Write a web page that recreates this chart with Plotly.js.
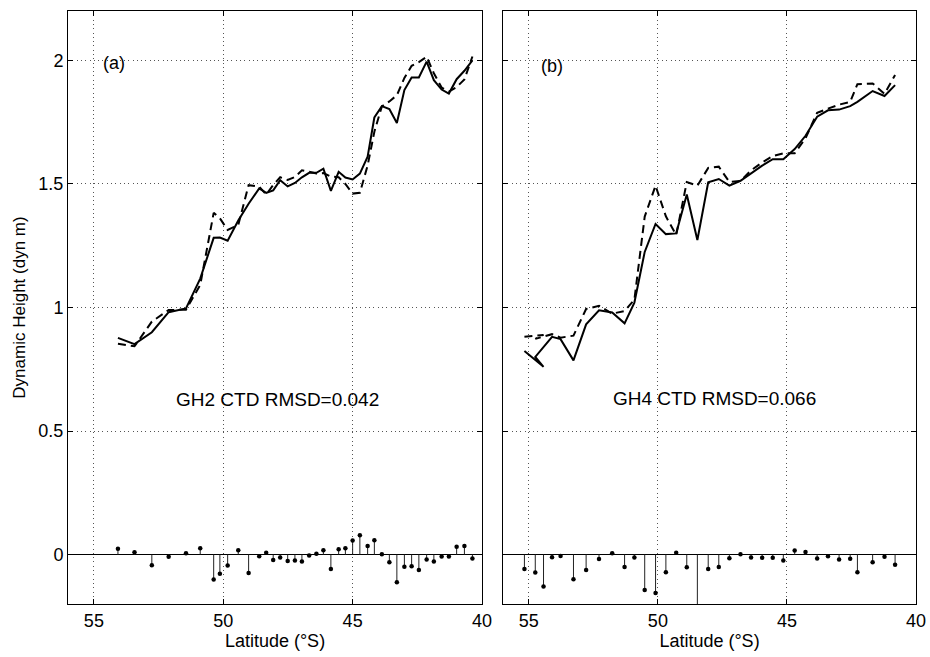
<!DOCTYPE html>
<html>
<head>
<meta charset="utf-8">
<script src="https://cdn.plot.ly/plotly-3.0.1.min.js"></script>
<style>
  html, body { margin: 0; padding: 0; background: #fff; }
  #chart { width: 930px; height: 657px; }
</style>
</head>
<body>
<div id="chart"></div>
<script>
// Station latitudes (°S), dynamic height from altimetry (GH), from CTD, and their difference
const latA = [54.07, 53.43, 52.76, 52.11, 51.44, 50.89, 50.37, 50.13, 49.83, 49.42, 49.02, 48.61, 48.34, 48.07,
  47.80, 47.51, 47.23, 46.96, 46.68, 46.40, 46.13, 45.84, 45.54, 45.28, 45.00, 44.72, 44.42, 44.16, 43.87,
  43.58, 43.29, 43.00, 42.72, 42.44, 42.14, 41.86, 41.56, 41.28, 40.98, 40.68, 40.37];
const gh2 = [0.877, 0.852, 0.900, 0.981, 0.996, 1.117, 1.282, 1.283, 1.270, 1.352, 1.420, 1.482, 1.464, 1.474,
  1.515, 1.490, 1.504, 1.527, 1.545, 1.545, 1.562, 1.472, 1.549, 1.526, 1.518, 1.542, 1.610, 1.769, 1.815,
  1.803, 1.747, 1.880, 1.931, 1.931, 1.995, 1.920, 1.882, 1.866, 1.924, 1.958, 2.000];
const ctdA = [0.853, 0.843, 0.943, 0.990, 0.991, 1.091, 1.383, 1.361, 1.314, 1.334, 1.495, 1.489, 1.457, 1.496,
  1.527, 1.516, 1.528, 1.555, 1.549, 1.542, 1.544, 1.530, 1.527, 1.500, 1.461, 1.464, 1.575, 1.711, 1.814,
  1.834, 1.859, 1.929, 1.978, 1.993, 2.015, 1.948, 1.890, 1.874, 1.892, 1.923, 2.016];
const diffA = [0.024, 0.009, -0.043, -0.009, 0.005, 0.026, -0.101, -0.078, -0.044, 0.018, -0.075, -0.007, 0.007, -0.022,
  -0.012, -0.026, -0.024, -0.028, -0.004, 0.003, 0.018, -0.058, 0.022, 0.026, 0.057, 0.078, 0.035, 0.058, 0.001,
  -0.031, -0.112, -0.049, -0.047, -0.062, -0.020, -0.028, -0.008, -0.008, 0.032, 0.035, -0.016];

const latB = [55.17, 54.43, 54.75, 54.10, 53.77, 53.27, 52.78, 52.28, 51.77, 51.29, 50.91, 50.51, 50.09, 49.69,
  49.29, 48.88, 48.47, 48.05, 47.64, 47.23, 46.80, 46.39, 45.96, 45.55, 45.14, 44.70, 44.28, 43.83, 43.41,
  42.98, 42.55, 42.27, 41.68, 41.22, 40.81];
const gh4 = [0.824, 0.760, 0.800, 0.881, 0.872, 0.786, 0.932, 0.989, 0.980, 0.936, 1.020, 1.225, 1.338, 1.297,
  1.300, 1.457, 1.273, 1.507, 1.520, 1.493, 1.513, 1.543, 1.574, 1.600, 1.600, 1.641, 1.695, 1.772, 1.798,
  1.801, 1.815, 1.832, 1.876, 1.856, 1.900];
const ctdB = [0.882, 0.889, 0.873, 0.892, 0.878, 0.886, 0.994, 1.007, 0.975, 0.986, 1.032, 1.368, 1.493, 1.369,
  1.293, 1.508, 1.493, 1.565, 1.570, 1.508, 1.512, 1.555, 1.587, 1.613, 1.624, 1.624, 1.685, 1.788, 1.805,
  1.821, 1.832, 1.904, 1.907, 1.865, 1.941];
const diffB = [-0.058, -0.129, -0.073, -0.011, -0.006, -0.100, -0.062, -0.018, 0.005, -0.050, -0.012, -0.143, -0.155, -0.072,
  0.007, -0.051, -0.220, -0.058, -0.050, -0.015, 0.001, -0.012, -0.013, -0.013, -0.024, 0.017, 0.010, -0.016, -0.007,
  -0.020, -0.017, -0.072, -0.031, -0.009, -0.041];

const xTicks = [55, 50, 45, 40];
const yTicks = [0, 0.5, 1, 1.5, 2];
const yTickText = ['0', '0.5', '1', '1.5', '2'];

// Vertical stems from zero to each difference value
function stemPath(lat, d) {
  const xs = [], ys = [];
  lat.forEach((v, i) => { xs.push(v, v, null); ys.push(0, d[i], null); });
  return { xs, ys };
}

function panelTraces(lat, gh, ctd, diff, xa, ya) {
  const s = stemPath(lat, diff);
  return [
    { x: s.xs, y: s.ys, xaxis: xa, yaxis: ya, mode: 'lines', line: { color: '#222', width: 1 }, hoverinfo: 'skip' },
    { x: lat, y: diff, xaxis: xa, yaxis: ya, mode: 'markers', marker: { color: '#000', size: 4.5 } },
    { x: lat, y: ctd, xaxis: xa, yaxis: ya, mode: 'lines', line: { color: '#000', width: 2, dash: '8px,5px' } },
    { x: lat, y: gh, xaxis: xa, yaxis: ya, mode: 'lines', line: { color: '#000', width: 2 } }
  ];
}

const data = [].concat(
  panelTraces(latA, gh2, ctdA, diffA, 'x', 'y'),
  panelTraces(latB, gh4, ctdB, diffB, 'x2', 'y2')
);

const W = 930, H = 657;
const yDom = [1 - 604 / H, 1 - 11 / H];

function xAxis(dom, anchor) {
  return {
    domain: dom, anchor: anchor, range: [56, 40],
    tickvals: xTicks, ticks: 'inside', ticklen: 5, tickwidth: 1, tickcolor: '#000',
    mirror: 'ticks', showline: true, linecolor: '#000', linewidth: 1,
    showgrid: true, gridcolor: '#555', gridwidth: 1, griddash: '1px,3.3px',
    zeroline: false, automargin: false,
    title: { text: 'Latitude (°S)', standoff: 4, font: { size: 18 } },
    tickfont: { size: 18 }
  };
}

function yAxis(anchor, labels) {
  return {
    domain: yDom, anchor: anchor, range: [-0.2, 2.2],
    tickvals: yTicks, ticktext: yTickText, showticklabels: labels,
    ticklabelposition: 'outside', ticklabelstandoff: 0,
    ticks: 'inside', ticklen: 5, tickwidth: 1, tickcolor: '#000',
    mirror: 'ticks', showline: true, linecolor: '#000', linewidth: 1,
    showgrid: true, gridcolor: '#555', gridwidth: 1, griddash: '1px,3.3px',
    zeroline: true, zerolinecolor: '#000', zerolinewidth: 1, automargin: false,
    tickfont: { size: 18, color: '#000' }
  };
}

const layout = {
  width: W, height: H,
  margin: { l: 0, r: 0, t: 0, b: 0 },
  paper_bgcolor: '#fff', plot_bgcolor: '#fff',
  showlegend: false,
  font: { family: 'Liberation Sans, Arial, Helvetica, sans-serif', size: 18, color: '#000' },
  xaxis: xAxis([68 / W, 482 / W], 'y'),
  xaxis2: xAxis([503 / W, 916 / W], 'y2'),
  yaxis: Object.assign(yAxis('x', true), { title: { text: 'Dynamic Height (dyn m)', standoff: 8, font: { size: 17 } } }),
  yaxis2: yAxis('x2', false),
  annotations: [
    { xref: 'x', yref: 'y', x: 54.72, y: 1.99, text: '(a)', showarrow: false, xanchor: 'left', yanchor: 'middle', font: { size: 18 } },
    { xref: 'x2', yref: 'y2', x: 54.60, y: 1.978, text: '(b)', showarrow: false, xanchor: 'left', yanchor: 'middle', font: { size: 18 } },
    { xref: 'x', yref: 'y', x: 47.92, y: 0.628, text: 'GH2 CTD RMSD=0.042', showarrow: false, xanchor: 'center', yanchor: 'middle', font: { size: 19 } },
    { xref: 'x2', yref: 'y2', x: 47.81, y: 0.633, text: 'GH4 CTD RMSD=0.066', showarrow: false, xanchor: 'center', yanchor: 'middle', font: { size: 19 } }
  ]
};

Plotly.newPlot('chart', data, layout, { staticPlot: true, displayModeBar: false });
</script>
</body>
</html>
